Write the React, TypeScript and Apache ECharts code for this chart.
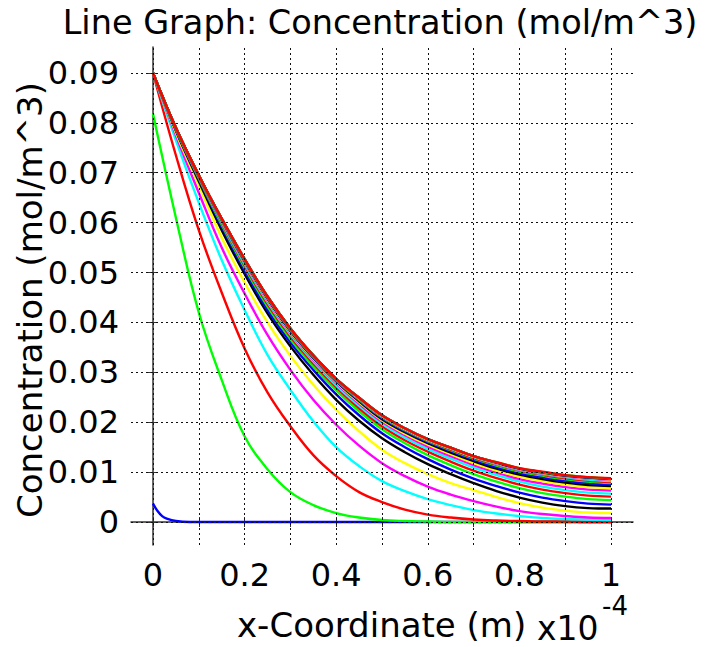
import React, { useEffect, useRef } from 'react';
import * as echarts from 'echarts';

// x-Coordinate samples (units of 1e-4 m)
const xCoords = [0, 0.05, 0.1, 0.15, 0.2, 0.25, 0.3, 0.35, 0.4, 0.45, 0.5, 0.55, 0.6, 0.65, 0.7, 0.75, 0.8, 0.85, 0.9, 0.95, 1.0];
// the first (initial) profile is sampled more finely near x = 0
const xCoordsInitial = [0, 0.01, 0.02, 0.03, 0.05, 0.08, 0.2, 1.0];

// Concentration profiles (mol/m^3), one per solution time
const c00 = [0.0037, 0.0022, 0.0012, 0.0007, 0.0002, 0, 0, 0];
const c01 = [0.0818, 0.061, 0.042, 0.0285, 0.0172, 0.0106, 0.006, 0.0034, 0.0018, 0.0009, 0.0004, 0.0002, 0.0001, 0, 0, 0, 0, 0, 0, 0, 0];
const c02 = [0.09, 0.0735, 0.0585, 0.046, 0.0348, 0.026, 0.0192, 0.0134, 0.0092, 0.006, 0.004, 0.0025, 0.0015, 0.0009, 0.0005, 0.0003, 0.0002, 0.0001, 0.0001, 0, 0];
const c03 = [0.09, 0.0765, 0.064, 0.0525, 0.0425, 0.0335, 0.0265, 0.0202, 0.015, 0.0112, 0.0082, 0.0062, 0.0046, 0.0034, 0.0024, 0.0017, 0.0012, 0.0008, 0.0006, 0.0005, 0.0004];
const c04 = [0.09, 0.0775, 0.066, 0.055, 0.0458, 0.0375, 0.0305, 0.0245, 0.0195, 0.0153, 0.0118, 0.0092, 0.0071, 0.0055, 0.0042, 0.0031, 0.0022, 0.0016, 0.0012, 0.0009, 0.0008];
const c05 = [0.09, 0.078, 0.0675, 0.057, 0.048, 0.04, 0.0333, 0.0275, 0.0225, 0.0182, 0.0145, 0.0118, 0.0096, 0.0078, 0.0064, 0.005, 0.0038, 0.0029, 0.0023, 0.0019, 0.0018];
const c06 = [0.09, 0.0784, 0.0683, 0.0585, 0.0497, 0.0418, 0.0352, 0.0295, 0.0245, 0.0203, 0.0168, 0.014, 0.0116, 0.0096, 0.0078, 0.0062, 0.0049, 0.0039, 0.0032, 0.0028, 0.0027];
const c07 = [0.09, 0.0786, 0.0687, 0.0592, 0.0505, 0.0425, 0.036, 0.0305, 0.0256, 0.0214, 0.0178, 0.015, 0.0126, 0.0105, 0.0087, 0.0072, 0.0059, 0.0049, 0.0042, 0.0037, 0.0035];
const c08 = [0.09, 0.0787, 0.0689, 0.0596, 0.051, 0.0432, 0.0367, 0.0312, 0.0264, 0.0222, 0.0186, 0.0158, 0.0134, 0.0114, 0.0096, 0.0081, 0.0068, 0.0058, 0.0051, 0.0046, 0.0044];
const c09 = [0.09, 0.0788, 0.069, 0.0599, 0.0514, 0.0437, 0.0372, 0.0318, 0.027, 0.0228, 0.0192, 0.0164, 0.0141, 0.0121, 0.0103, 0.0088, 0.0075, 0.0065, 0.0058, 0.0053, 0.0051];
const c10 = [0.09, 0.0788, 0.0691, 0.0601, 0.0517, 0.0441, 0.0376, 0.0322, 0.0274, 0.0233, 0.0197, 0.0169, 0.0146, 0.0127, 0.0109, 0.0094, 0.0081, 0.0071, 0.0064, 0.0059, 0.0057];
const c11 = [0.09, 0.0789, 0.0692, 0.0603, 0.052, 0.0444, 0.0379, 0.0325, 0.0278, 0.0237, 0.0201, 0.0174, 0.0151, 0.0132, 0.0114, 0.0099, 0.0086, 0.0077, 0.007, 0.0065, 0.0063];
const c12 = [0.09, 0.0789, 0.0693, 0.0604, 0.0522, 0.0446, 0.0381, 0.0327, 0.028, 0.024, 0.0204, 0.0177, 0.0155, 0.0136, 0.0118, 0.0103, 0.0091, 0.0082, 0.0075, 0.007, 0.0068];
const c13 = [0.09, 0.0789, 0.0693, 0.0605, 0.0523, 0.0448, 0.0383, 0.0329, 0.0282, 0.0242, 0.0206, 0.018, 0.0158, 0.0139, 0.0122, 0.0107, 0.0095, 0.0086, 0.0079, 0.0074, 0.0072];
const c14 = [0.09, 0.0789, 0.0694, 0.0606, 0.0524, 0.0449, 0.0384, 0.033, 0.0283, 0.0244, 0.0208, 0.0182, 0.016, 0.0142, 0.0125, 0.011, 0.0098, 0.009, 0.0083, 0.0078, 0.0075];
const c15 = [0.09, 0.079, 0.0694, 0.0606, 0.0525, 0.045, 0.0385, 0.0331, 0.0284, 0.0245, 0.021, 0.0184, 0.0162, 0.0144, 0.0127, 0.0113, 0.0101, 0.0093, 0.0086, 0.0081, 0.0078];
const c16 = [0.09, 0.079, 0.0694, 0.0607, 0.0526, 0.045, 0.0386, 0.0332, 0.0285, 0.0246, 0.0211, 0.0185, 0.0163, 0.0145, 0.0128, 0.0115, 0.0103, 0.0095, 0.0088, 0.0083, 0.008];
const c17 = [0.09, 0.079, 0.0695, 0.0607, 0.0526, 0.0451, 0.0387, 0.0333, 0.0286, 0.0247, 0.0212, 0.0186, 0.0164, 0.0147, 0.013, 0.0116, 0.0104, 0.0096, 0.009, 0.0085, 0.0082];
const c18 = [0.09, 0.079, 0.0695, 0.0607, 0.0527, 0.0451, 0.0387, 0.0333, 0.0286, 0.0248, 0.0213, 0.0187, 0.0165, 0.0148, 0.0131, 0.0117, 0.0105, 0.0097, 0.0091, 0.0087, 0.0084];
const c19 = [0.09, 0.079, 0.0695, 0.0608, 0.0527, 0.0452, 0.0388, 0.0334, 0.0287, 0.0248, 0.0213, 0.0187, 0.0165, 0.0148, 0.0131, 0.0118, 0.0106, 0.0098, 0.0092, 0.0088, 0.0085];
const c20 = [0.09, 0.079, 0.0695, 0.0608, 0.0527, 0.0452, 0.0388, 0.0334, 0.0287, 0.0249, 0.0214, 0.0188, 0.0166, 0.0149, 0.0132, 0.0119, 0.0107, 0.0099, 0.0093, 0.0089, 0.0086];
const c21 = [0.09, 0.079, 0.0695, 0.0608, 0.0527, 0.0452, 0.0388, 0.0334, 0.0287, 0.0249, 0.0214, 0.0188, 0.0166, 0.0149, 0.0132, 0.0119, 0.0107, 0.01, 0.0093, 0.0089, 0.0087];
const c22 = [0.09, 0.079, 0.0695, 0.0608, 0.0527, 0.0452, 0.0388, 0.0334, 0.0287, 0.0249, 0.0214, 0.0188, 0.0166, 0.0149, 0.0132, 0.012, 0.0108, 0.01, 0.0094, 0.009, 0.0087];
const c23 = [0.09, 0.079, 0.0695, 0.0608, 0.0527, 0.0452, 0.0388, 0.0334, 0.0287, 0.0249, 0.0214, 0.0188, 0.0166, 0.0149, 0.0132, 0.012, 0.0108, 0.0101, 0.0094, 0.009, 0.0088];

const profiles = [c00, c01, c02, c03, c04, c05, c06, c07, c08, c09, c10, c11, c12, c13, c14, c15, c16, c17, c18, c19, c20, c21, c22, c23];

const colorCycle = ['#0000ff', '#00ff00', '#ff0000', '#00ffff', '#ff00ff', '#ffff00', '#000000'];

const xTickLabels = [0, 0.2, 0.4, 0.6, 0.8, 1];
const xGridValues = [0, 0.1, 0.2, 0.3, 0.4, 0.5, 0.6, 0.7, 0.8, 0.9, 1];
const yTickLabels = [0, 0.01, 0.02, 0.03, 0.04, 0.05, 0.06, 0.07, 0.08, 0.09];

const titleText = 'Line Graph: Concentration (mol/m^3)';
const yName = 'Concentration (mol/m^3)';
const xName = 'x-Coordinate (m)';
const xScaleText = 'x10';
const xScaleExp = '-4';

const FONT = '"DejaVu Sans", "Noto Sans", sans-serif';

export default function App() {
  const ref = useRef<HTMLDivElement>(null);

  useEffect(() => {
    if (!ref.current) return;
    const chart = echarts.init(ref.current, null, { renderer: 'svg' });

    const xMin = -0.048, xMax = 1.048, yMin = -0.0046, yMax = 0.0952;
    const axisColor = '#333';
    const gridStyle = { type: [2, 3] as any, color: '#111', width: 1 };

    const tickCommon = { show: true, inside: true, length: 5, lineStyle: { color: axisColor, width: 1 } };

    const series: any[] = [
      {
        type: 'line',
        data: [[0, 0]],
        showSymbol: false,
        lineStyle: { opacity: 0 },
        silent: true,
        markLine: {
          silent: true,
          symbol: ['none', 'none'],
          label: { show: false },
          lineStyle: gridStyle,
          data: [
            ...xGridValues.map((v) => ({ xAxis: v })),
            ...yTickLabels.map((v) => ({ yAxis: v })),
          ],
        },
      },
    ];

    profiles.forEach((p, i) => {
      const xs = i === 0 ? xCoordsInitial : xCoords;
      series.push({
        type: 'line',
        data: xs.map((x, k) => [x, p[k]]),
        showSymbol: false,
        smooth: 0.4,
        lineStyle: { color: colorCycle[i % colorCycle.length], width: 2.4 },
        itemStyle: { color: colorCycle[i % colorCycle.length] },
        silent: true,
      });
    });

    chart.setOption({
      animation: false,
      backgroundColor: '#fff',
      grid: { left: 131, top: 47, right: 77, bottom: 102, containLabel: false },
      xAxis: [
        {
          type: 'value',
          position: 'bottom',
          min: xMin,
          max: xMax,
          axisLine: { show: false },
          axisTick: { ...tickCommon, customValues: xGridValues },
          axisLabel: {
            customValues: xTickLabels,
            formatter: (v: number) => (v === 0 ? '0' : v === 1 ? '1' : v.toFixed(1)),
            fontSize: 32,
            fontFamily: FONT,
            color: '#000',
            margin: 14,
          },
          splitLine: { show: false },
        },
        {
          type: 'value',
          position: 'top',
          min: xMin,
          max: xMax,
          axisLine: { show: true, lineStyle: { color: axisColor, width: 1.5 } },
          axisTick: { ...tickCommon, customValues: xGridValues },
          axisLabel: { show: false },
          splitLine: { show: false },
        },
      ],
      yAxis: [
        {
          type: 'value',
          position: 'left',
          min: yMin,
          max: yMax,
          axisLine: { show: true, lineStyle: { color: axisColor, width: 1.5 } },
          axisTick: { ...tickCommon, customValues: yTickLabels },
          axisLabel: {
            customValues: yTickLabels,
            formatter: (v: number) => (v === 0 ? '0' : v.toFixed(2)),
            fontSize: 32,
            fontFamily: FONT,
            color: '#000',
            margin: 12,
          },
          splitLine: { show: false },
        },
        {
          type: 'value',
          position: 'right',
          min: yMin,
          max: yMax,
          axisLine: { show: false },
          axisTick: { ...tickCommon, customValues: yTickLabels },
          axisLabel: { show: false },
          splitLine: { show: false },
        },
      ],
      graphic: [
        {
          type: 'text',
          x: 380,
          y: 22,
          silent: true,
          style: { text: titleText, fill: '#000', font: `33.5px ${FONT}`, align: 'center', verticalAlign: 'middle', textAlign: 'center', textVerticalAlign: 'middle' },
        },
        {
          type: 'text',
          x: 30,
          y: 300,
          rotation: Math.PI / 2,
          silent: true,
          style: { text: yName, fill: '#000', font: `34px ${FONT}`, align: 'center', verticalAlign: 'middle', textAlign: 'center', textVerticalAlign: 'middle' },
        },
        {
          type: 'text',
          x: 237,
          y: 625,
          silent: true,
          style: { text: xName, fill: '#000', font: `34px ${FONT}`, align: 'left', verticalAlign: 'middle', textAlign: 'left', textVerticalAlign: 'middle' },
        },
        {
          type: 'text',
          x: 537,
          y: 628,
          silent: true,
          style: { text: xScaleText, fill: '#000', font: `33px ${FONT}`, align: 'left', verticalAlign: 'middle', textAlign: 'left', textVerticalAlign: 'middle' },
        },
        {
          type: 'text',
          x: 602,
          y: 606,
          silent: true,
          style: { text: xScaleExp, fill: '#000', font: `26px ${FONT}`, align: 'left', verticalAlign: 'middle', textAlign: 'left', textVerticalAlign: 'middle' },
        },
      ],
      series,
    });

    return () => chart.dispose();
  }, []);

  return <div ref={ref} style={{ position: 'fixed', left: 0, top: 0, width: 710, height: 647, background: '#fff' }} />;
}
